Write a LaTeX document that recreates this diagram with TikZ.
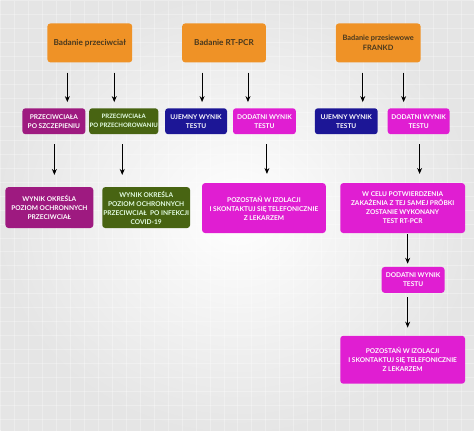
\documentclass[tikz,border=0pt]{standalone}
\usepackage{fontspec}
\setmainfont{Lato}
\usetikzlibrary{arrows.meta, shadings}

\definecolor{orangebox}{RGB}{239,146,38}
\definecolor{orangetext}{RGB}{72,56,30}
\definecolor{purplebox}{RGB}{158,26,128}
\definecolor{greenbox}{RGB}{72,100,18}
\definecolor{bluebox}{RGB}{28,22,150}
\definecolor{magentabox}{RGB}{224,30,210}

\begin{document}
\begin{tikzpicture}[
            x = 1pt, y = -1pt, % pixel like coordinates
            > = {Stealth[length=6pt, width=5pt]}, % arrow head style
            arr/.style = {->, line width=0.9pt, shorten < = 10pt, shorten > = 6pt},
            box/.style = {rounded corners = 3pt, inner sep = 0.5pt, align = center,
                          text = white, font = \fontsize{6.6}{9}\selectfont\bfseries},
            topbox/.style = {box, fill = orangebox, text = orangetext,
                             minimum width = 85pt, minimum height = 39pt,
                             font = \fontsize{8.2}{9.5}\selectfont\bfseries},
            smallbox/.style = {box, minimum height = 26pt},
            bigbox/.style = {box, fill = magentabox, minimum width = 125pt}
        ]

        % background
        \shade[inner color = white, outer color = gray!20] (0,0) rectangle (474,431);
        \foreach \gx in {0,14,...,474}
            \draw[white, opacity = 0.3, line width = 1pt] (\gx,0) -- (\gx,431);
        \foreach \gy in {0,14,...,431}
            \draw[white, opacity = 0.3, line width = 1pt] (0,\gy) -- (474,\gy);
        \useasboundingbox (0,0) rectangle (474,431);

	% top row
	\node[topbox] (antibody) at (89.5,42.5) {Badanie przeciwciał};
	\node[topbox, minimum width = 84pt] (pcr) at (224,42.5) {Badanie RT-PCR};
	\node[topbox, font = \fontsize{7.4}{10}\selectfont\bfseries] (frankd) at (378.5,42.5) {Badanie przesiewowe\\FRANKD};

	% second row
	\node[smallbox, fill = purplebox, minimum width = 63pt] (vacc) at (53.5,121) {PRZECIWCIAŁA\\PO SZCZEPIENIU};
	\node[smallbox, fill = greenbox, minimum width = 67pt, text = green!10,
	      font = \fontsize{6.05}{9}\selectfont\bfseries] (recov) at (123.5,121) {PRZECIWCIAŁA\\PO PRZECHOROWANIU};
	\node[smallbox, fill = bluebox, minimum width = 62pt] (pcrneg) at (196,121) {UJEMNY WYNIK\\TESTU};
	\node[smallbox, fill = magentabox, minimum width = 63pt] (pcrpos) at (264.5,121) {DODATNI WYNIK\\TESTU};
	\node[smallbox, fill = bluebox, minimum width = 63pt] (frneg) at (346.5,121) {UJEMNY WYNIK\\TESTU};
	\node[smallbox, fill = magentabox, minimum width = 62pt] (frpos) at (419,121) {DODATNI WYNIK\\TESTU};

	% third row
	\node[box, fill = purplebox, minimum width = 88pt, minimum height = 41pt] (vaccres) at (49,207.5) {WYNIK OKREŚLA\\POZIOM OCHRONNYCH\\PRZECIWCIAŁ};
	\node[box, fill = greenbox, minimum width = 88pt, minimum height = 41pt, text = green!10] (recovres) at (146,207.5) {WYNIK OKREŚLA\\POZIOM OCHRONNYCH\\PRZECIWCIAŁ\ \ PO INFEKCJI\\COVID-19};
	\node[bigbox, minimum width = 124pt, minimum height = 50pt] (isolate) at (264,208) {POZOSTAŃ W IZOLACJI\\I SKONTAKTUJ SIĘ TELEFONICZNIE\\Z LEKARZEM};
	\node[bigbox, minimum height = 50pt] (confirm) at (403,208) {W CELU POTWIERDZENIA\\ZAKAŻENIA Z TEJ SAMEJ PRÓBKI\\ZOSTANIE WYKONANY\\TEST RT-PCR};

	% right column
	\node[smallbox, fill = magentabox, minimum width = 63pt] (confpos) at (413.5,280) {DODATNI WYNIK\\TESTU};
	\node[bigbox, minimum height = 48pt] (isolate2) at (403,360) {POZOSTAŃ W IZOLACJI\\I SKONTAKTUJ SIĘ TELEFONICZNIE\\Z LEKARZEM};

	% arrows
	\draw[arr] ([xshift=-22.5pt]antibody.south) -- ([xshift=13.5pt]vacc.north);
	\draw[arr] ([xshift=24.5pt]antibody.south) -- ([xshift=-9.5pt]recov.north);
	\draw[arr] ([xshift=-22pt]pcr.south) -- ([xshift=6pt]pcrneg.north);
	\draw[arr] ([xshift=24pt]pcr.south) -- ([xshift=-16.5pt]pcrpos.north);
	\draw[arr] ([xshift=-15.5pt]frankd.south) -- ([xshift=16.5pt]frneg.north);
	\draw[arr] ([xshift=25.5pt]frankd.south) -- ([xshift=-15pt]frpos.north);

	\draw[arr, shorten > = 12pt] ([xshift=0.5pt]vacc.south) -- ([xshift=5pt]vaccres.north);
	\draw[arr, shorten > = 12pt] ([xshift=-1.5pt]recov.south) -- ([xshift=-24pt]recovres.north);
	\draw[arr, shorten > = 9pt] ([xshift=2.5pt]pcrpos.south) -- ([xshift=3pt]isolate.north);
	\draw[arr, shorten > = 9pt] ([xshift=1pt]frpos.south) -- ([xshift=17pt]confirm.north);

	\draw[arr, shorten < = 1pt, shorten > = 3pt] ([xshift=5pt]confirm.south) -- ([xshift=-5.5pt]confpos.north);
	\draw[arr, shorten < = 4pt, shorten > = 8pt] ([xshift=-5.5pt]confpos.south) -- ([xshift=5pt]isolate2.north);

    \end{tikzpicture}
\end{document}
